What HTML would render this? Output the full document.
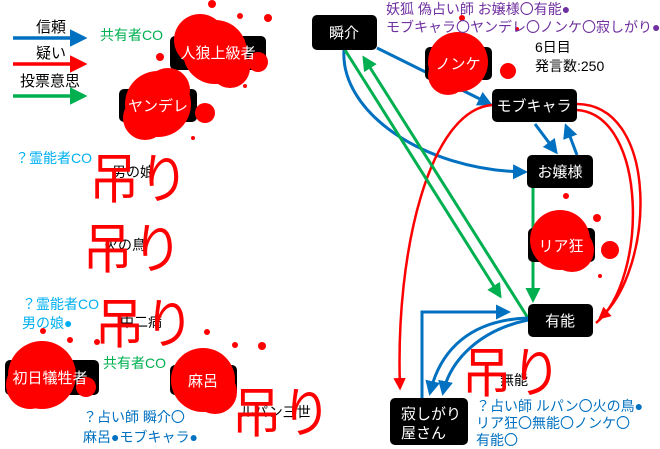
<!DOCTYPE html>
<html><head><meta charset="utf-8"><style>
html,body{margin:0;padding:0;background:#fff;}
svg{display:block;font-family:"Liberation Sans","Noto Sans CJK JP",sans-serif;}
</style></head><body>
<svg width="660" height="449" viewBox="0 0 660 449" xmlns="http://www.w3.org/2000/svg">
<defs>
<marker id="mb" markerWidth="5" markerHeight="5" refX="4" refY="2.5" orient="auto" markerUnits="strokeWidth"><path d="M0,0 L5,2.5 L0,5 z" fill="#0070c0"/></marker>
<marker id="mr" markerWidth="5" markerHeight="5" refX="4" refY="2.5" orient="auto" markerUnits="strokeWidth"><path d="M0,0 L5,2.5 L0,5 z" fill="#ff0000"/></marker>
<marker id="mg" markerWidth="5" markerHeight="5" refX="4" refY="2.5" orient="auto" markerUnits="strokeWidth"><path d="M0,0 L5,2.5 L0,5 z" fill="#00b050"/></marker>
</defs>
<g font-size="15" fill="#000">
<text x="36" y="32">信頼</text>
<text x="36" y="58">疑い</text>
<text x="20" y="86">投票意思</text>
</g>
<line x1="13" y1="38" x2="84" y2="38" stroke="#0070c0" stroke-width="3.5" marker-end="url(#mb)"/>
<line x1="13" y1="64" x2="84" y2="64" stroke="#ff0000" stroke-width="3.5" marker-end="url(#mr)"/>
<line x1="13" y1="96" x2="84" y2="96" stroke="#00b050" stroke-width="3.5" marker-end="url(#mg)"/>

<g fill="none" stroke-width="3">
<path d="M377,48 L490,104" stroke="#0070c0" marker-end="url(#mb)"/>
<path d="M344,50 C340,110 420,170 525,172" stroke="#0070c0" marker-end="url(#mb)"/>
<path d="M535,124 L556,152" stroke="#0070c0" marker-end="url(#mb)"/>
<path d="M577,155 L566,126" stroke="#0070c0" marker-end="url(#mb)"/>
<path d="M492,105 C430,110 395,250 400,388" stroke="#ff0000" stroke-width="2.5" marker-end="url(#mr)"/>
<path d="M577,104 C660,105 655,270 600,318" stroke="#ff0000" stroke-width="2.5" marker-end="url(#mr)"/>
<path d="M577,110 C648,115 648,280 596,323" stroke="#ff0000" stroke-width="2.5"/>
<path d="M345,50 L500,296" stroke="#00b050" marker-end="url(#mg)"/>
<path d="M528,318 L364,58" stroke="#00b050" marker-end="url(#mg)"/>
<path d="M533,188 L533,300" stroke="#00b050" marker-end="url(#mg)"/>
<path d="M422,398 L422,312 L508,312" stroke="#0070c0" marker-end="url(#mb)"/>
<path d="M528,318 C470,320 440,350 430,393" stroke="#0070c0" marker-end="url(#mb)"/>
<path d="M528,320 C480,330 450,360 443,393" stroke="#0070c0" marker-end="url(#mb)"/>
</g>

<g fill="#000">
<rect x="312" y="15" width="65" height="35" rx="5"/>
<rect x="425" y="47" width="67" height="33" rx="5"/>
<rect x="492" y="89" width="85" height="33" rx="5"/>
<rect x="527" y="155" width="66" height="33" rx="5"/>
<rect x="528" y="228" width="67" height="34" rx="5"/>
<rect x="528" y="304" width="65" height="33" rx="5"/>
<rect x="390" y="398" width="78" height="47" rx="5"/>
<rect x="170" y="36" width="96" height="34" rx="5"/>
<rect x="119" y="89" width="78" height="33" rx="5"/>
<rect x="5" y="360" width="94" height="35" rx="5"/>
<rect x="170" y="365" width="67" height="30" rx="5"/>
</g>

<g fill="#ff0000">
<circle cx="215" cy="52" r="32"/><circle cx="200" cy="40" r="26"/><circle cx="230" cy="68" r="20"/><circle cx="258" cy="62" r="10"/><circle cx="212" cy="4" r="4"/><circle cx="240" cy="16" r="3"/><circle cx="268" cy="18" r="4"/><circle cx="160" cy="57" r="4"/><circle cx="245" cy="86" r="2"/>
<circle cx="158" cy="104" r="33"/><circle cx="145" cy="118" r="22"/><circle cx="168" cy="90" r="22"/><circle cx="205" cy="113" r="10"/><circle cx="193" cy="138" r="2"/>
<circle cx="458" cy="62" r="30"/><circle cx="448" cy="75" r="20"/><circle cx="508" cy="71" r="8"/><circle cx="517" cy="29" r="2"/><circle cx="462" cy="18" r="3"/>
<circle cx="560" cy="240" r="30"/><circle cx="572" cy="250" r="22"/><circle cx="610" cy="250" r="9"/><circle cx="597" cy="218" r="4"/><circle cx="566" cy="196" r="3"/><circle cx="600" cy="276" r="2"/>
<circle cx="42" cy="375" r="34"/><circle cx="30" cy="385" r="24"/><circle cx="86" cy="387" r="10"/><circle cx="43" cy="331" r="3"/><circle cx="70" cy="340" r="3"/><circle cx="97" cy="342" r="3"/>
<circle cx="203" cy="380" r="32"/><circle cx="215" cy="392" r="22"/><circle cx="235" cy="345" r="3"/><circle cx="262" cy="346" r="4"/><circle cx="207" cy="332" r="3"/>
</g>

<g fill="#fff" font-size="15" text-anchor="middle">
<text x="344" y="38">瞬介</text>
<text x="458" y="69">ノンケ</text>
<text x="534" y="111">モブキャラ</text>
<text x="560" y="177">お嬢様</text>
<text x="561" y="251">リア狂</text>
<text x="560" y="326">有能</text>
<text x="401" y="419" text-anchor="start">寂しがり</text>
<text x="401" y="438" text-anchor="start">屋さん</text>
<text x="218" y="58">人狼上級者</text>
<text x="158" y="111">ヤンデレ</text>
<text x="50" y="383">初日犠牲者</text>
<text x="203" y="386">麻呂</text>
</g>

<g font-size="14">
<text x="100" y="40" fill="#00b050">共有者CO</text>
<text x="15" y="163" fill="#00b0f0">？霊能者CO</text>
<text x="112" y="177" fill="#000">男の娘</text>
<text x="104" y="250" fill="#000">火の鳥</text>
<text x="22" y="309" fill="#00b0f0">？霊能者CO</text>
<text x="22" y="328" fill="#00b0f0">男の娘●</text>
<text x="120" y="327" fill="#000">中二病</text>
<text x="103" y="368" fill="#00b050">共有者CO</text>
<text x="83" y="422" fill="#0070c0">？占い師 瞬介〇</text>
<text x="83" y="442" fill="#0070c0">麻呂●モブキャラ●</text>
<text x="240" y="417" fill="#000">ルパン三世</text>
<text x="386" y="14" fill="#7030a0">妖狐 偽占い師 お嬢様〇有能●</text>
<text x="386" y="32" fill="#7030a0">モブキャラ〇ヤンデレ〇ノンケ〇寂しがり●</text>
<text x="535" y="52" fill="#000">6日目</text>
<text x="535" y="71" fill="#000">発言数:250</text>
<text x="500" y="385" fill="#000">無能</text>
<text x="476" y="411" fill="#0070c0">？占い師 ルパン〇火の鳥●</text>
<text x="476" y="428" fill="#0070c0">リア狂〇無能〇ノンケ〇</text>
<text x="476" y="445" fill="#0070c0">有能〇</text>
</g>

<g font-size="54" fill="#ff0000" transform="scale(0.92,1)">
<text x="97" y="198">吊り</text>
<text x="90" y="268">吊り</text>
<text x="103" y="343">吊り</text>
<text x="252" y="432">吊り</text>
<text x="502" y="392">吊り</text>
</g>
</svg>
</body></html>
